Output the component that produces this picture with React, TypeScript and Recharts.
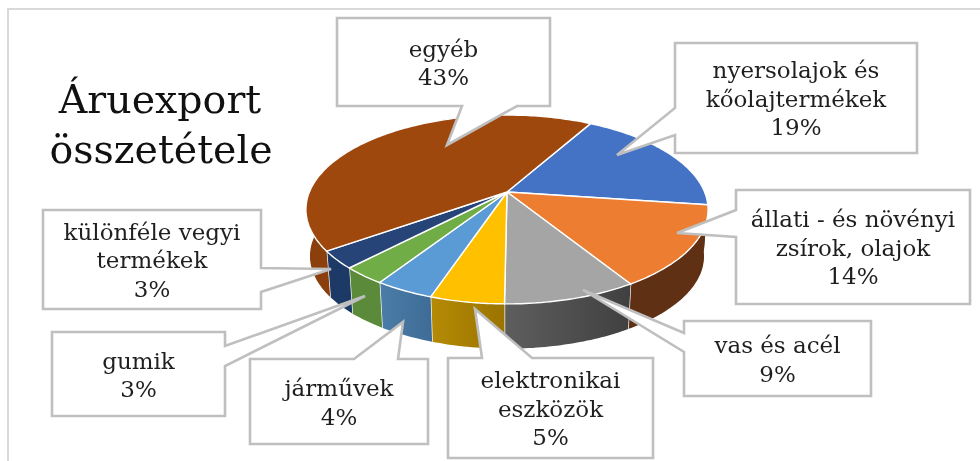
import React from 'react';
import { PieChart, Pie } from 'recharts';

const categories = [
  'nyersolajok és\nkőolajtermékek',
  'állati - és növényi\nzsírok, olajok',
  'vas és acél',
  'elektronikai\neszközök',
  'járművek',
  'gumik',
  'különféle vegyi\ntermékek',
  'egyéb',
];
const shares = [19, 14, 9, 5, 4, 3, 3, 43];
const topColors = ['#4472C4', '#ED7D31', '#A5A5A5', '#FFC000', '#5B9BD5', '#70AD47', '#264478', '#9E480E'];
const wallColors = ['#5f3013', '#5f3013', 'url(#wallGrey)', 'url(#wallYellow)', 'url(#wallBlue)', '#5b8a3a', '#1d3a66', '#8a3f0c'];

// callout boxes: [left, top, right, bottom], wedge base and tip
const calloutBoxes = [
  { box: [675, 43, 917, 153], base: [[675, 135], [675, 108]], tip: [617, 155] },
  { box: [736, 190, 970, 304], base: [[736, 237], [736, 210]], tip: [677, 233] },
  { box: [684, 321, 871, 396], base: [[684, 352], [684, 333]], tip: [583, 290] },
  { box: [448, 358, 653, 458], base: [[482, 358], [532, 358]], tip: [475, 309] },
  { box: [250, 359, 428, 444], base: [[354, 359], [398, 359]], tip: [403, 322] },
  { box: [52, 332, 225, 416], base: [[225, 346], [225, 366]], tip: [365, 296] },
  { box: [43, 210, 261, 309], base: [[261, 268], [261, 292]], tip: [331, 269] },
  { box: [337, 18, 550, 106], base: [[462, 106], [517, 106]], tip: [447, 145] },
];

const tableData = categories.map((name, i) => ({
  name,
  value: shares[i],
  fill: topColors[i],
  wall: wallColors[i],
}));

const FONT = '"DejaVu Serif", serif';
const TILT = 0.185; // perspective of the disc
const SQUASH = 91.2 / 197.6;
const DEPTH = 47;
const RAD = Math.PI / 180;

// polar angle on the disc -> screen point, with perspective
const project = (cx: number, cy: number, r: number, deg: number, scale = 1, dy = 0) => {
  const u = Math.cos(deg * RAD);
  const v = Math.sin(deg * RAD);
  const w = 1 + TILT * v;
  return [cx + (scale * r * u) / w, cy + dy - (scale * r * SQUASH * v) / w];
};

const rim = (p: any, scale = 1, dy = 0) => {
  const pts = [];
  const steps = Math.max(2, Math.ceil(Math.abs(p.endAngle - p.startAngle)));
  for (let i = 0; i <= steps; i++) {
    const a = p.startAngle + ((p.endAngle - p.startAngle) * i) / steps;
    pts.push(project(p.cx, p.cy, p.outerRadius, a, scale, dy));
  }
  return pts;
};

const toPath = (pts: number[][]) =>
  'M' + pts.map(q => `${q[0].toFixed(1)},${q[1].toFixed(1)}`).join('L') + 'Z';

const TopFace = (p: any) => (
  <path d={toPath([[p.cx, p.cy], ...rim(p)])} fill={p.fill} stroke="#ffffff" strokeWidth={1.4} strokeLinejoin="round" />
);

const WallFace = (p: any) => {
  const top = rim(p);
  const bottom = rim(p, 0.98, DEPTH);
  const last = top.length - 1;
  const front = Math.sin(p.endAngle * RAD) < -0.2;
  return (
    <g>
      <path d={toPath([...top, ...bottom.slice().reverse()])} fill={p.wall} />
      {front && (
        <line x1={top[last][0]} y1={top[last][1]} x2={bottom[last][0]} y2={bottom[last][1]} stroke="#ffffff" strokeWidth={1.4} />
      )}
    </g>
  );
};

// base points ordered along the clockwise walk of the box
const wedge = (base: number[][], tip: number[], side: number) => {
  const [a, c] = base;
  const forward = side === 0 ? a[0] < c[0] : side === 1 ? a[1] < c[1] : side === 2 ? a[0] > c[0] : a[1] > c[1];
  return forward ? [a, tip, c] : [c, tip, a];
};

const Callout = (p: any) => {
  const { box, base, tip } = calloutBoxes[categories.indexOf(p.name)];
  const [l, t, r, b] = box;
  const corners = [[l, t], [r, t], [r, b], [l, b]];
  // walk the box clockwise and put the wedge into the side its base lies on
  const side = base[0][1] === t ? 0 : base[0][0] === r ? 1 : base[0][1] === b ? 2 : 3;
  const pts: number[][] = [];
  corners.forEach((c, i) => {
    pts.push(c);
    if (i === side) pts.push(...wedge(base, tip, side));
  });
  const lines = [...p.name.split('\n'), `${p.value}%`];
  const first = (t + b) / 2 - (lines.length * 28.5) / 2 + 23;
  return (
    <g>
      <path d={toPath(pts)} fill="#ffffff" stroke="#bfbfbf" strokeWidth={2.6} strokeLinejoin="miter" />
      <text textAnchor="middle" fontFamily={FONT} fontSize={23} fill="#1f1f1f">
        {lines.map((s: string, i: number) => (
          <tspan key={i} x={(l + r) / 2} y={first + i * 28.5}>{s}</tspan>
        ))}
      </text>
    </g>
  );
};

const App = () => (
  <div style={{ position: 'absolute', left: 0, top: 0, width: 980, height: 461, background: '#ffffff', overflow: 'hidden' }}>
    <div style={{ position: 'absolute', left: 7, top: 8, width: 973, height: 453, borderLeft: '2px solid #d9d9d9', borderTop: '2px solid #d9d9d9' }} />
    <div style={{ position: 'absolute', left: 0, top: 0, filter: 'blur(0.4px)' }}>
      <PieChart width={980} height={461} margin={{ top: 0, right: 0, bottom: 0, left: 0 }}>
        <defs>
          <linearGradient id="wallGrey" x1="0" y1="0" x2="1" y2="0">
            <stop offset="0" stopColor="#5e5e5e" />
            <stop offset="1" stopColor="#404040" />
          </linearGradient>
          <linearGradient id="wallYellow" x1="0" y1="0" x2="1" y2="0">
            <stop offset="0" stopColor="#b58a05" />
            <stop offset="1" stopColor="#9a7400" />
          </linearGradient>
          <linearGradient id="wallBlue" x1="0" y1="0" x2="1" y2="0">
            <stop offset="0" stopColor="#4a7da8" />
            <stop offset="1" stopColor="#3e6c96" />
          </linearGradient>
        </defs>
        <Pie
          data={tableData}
          dataKey="value"
          nameKey="name"
          cx={507}
          cy={192}
          outerRadius={197.6}
          startAngle={60.6}
          endAngle={-299.4}
          isAnimationActive={false}
          shape={WallFace}
          label={false}
          labelLine={false}
        />
        <Pie
          data={tableData}
          dataKey="value"
          nameKey="name"
          cx={507}
          cy={192}
          outerRadius={197.6}
          startAngle={60.6}
          endAngle={-299.4}
          isAnimationActive={false}
          shape={TopFace}
          label={Callout}
          labelLine={false}
        />
        <text textAnchor="middle" fontFamily={FONT} fontSize={39.5} fill="#111111">
          <tspan x={160} y={113}>Áruexport</tspan>
          <tspan x={161} y={163}>összetétele</tspan>
        </text>
      </PieChart>
    </div>
  </div>
);

export default App;
